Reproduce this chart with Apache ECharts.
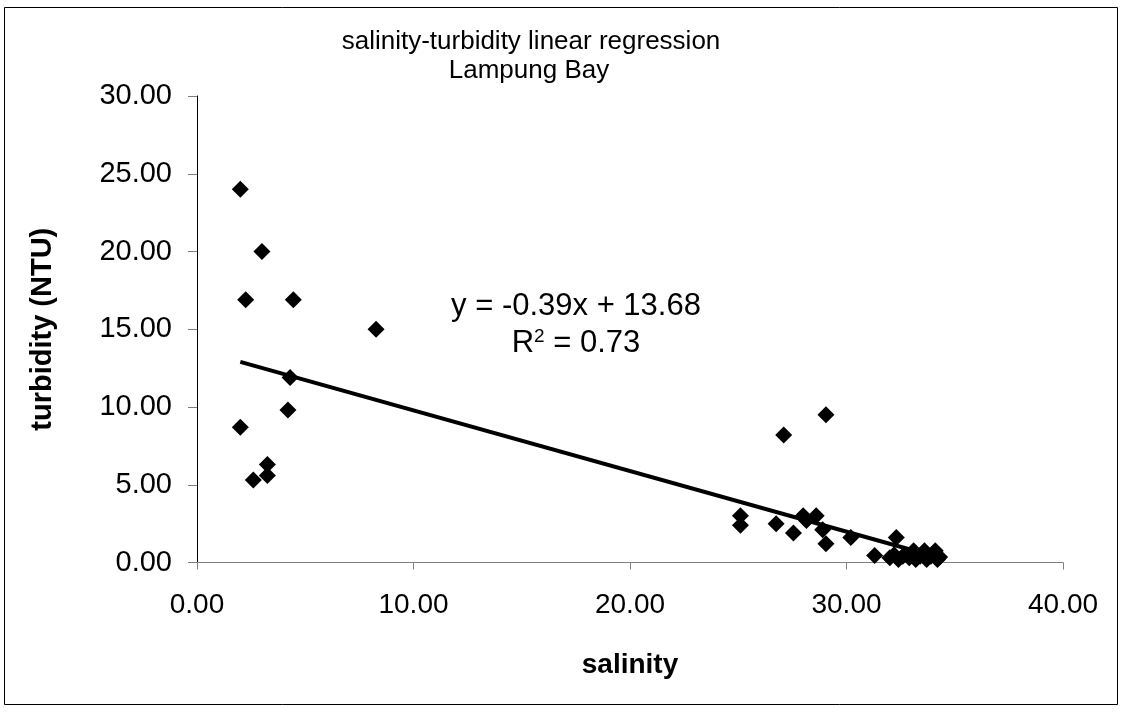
<!DOCTYPE html>
<html>
<head>
<meta charset="utf-8">
<title>salinity-turbidity linear regression</title>
<script src="https://cdn.jsdelivr.net/npm/echarts@6/dist/echarts.min.js"></script>
<style>
  html, body { margin: 0; padding: 0; background: #fff; }
  #chart { width: 1123px; height: 712px; }
</style>
</head>
<body>
<div id="chart"></div>
<script>
// salinity (x) and turbidity (y)
var salinity = [2.0, 3.0, 2.25, 4.45, 8.27, 4.3, 4.2, 2.0, 3.25, 3.25, 2.6,
  25.1, 25.1, 26.75, 27.1, 27.55, 28.0, 28.15, 28.6, 28.9, 29.05, 29.05, 30.2, 31.3, 32.3,
  32.0, 32.2, 32.4, 32.6, 32.9, 33.1, 33.2, 33.4, 33.6, 33.7, 33.9, 34.1, 34.2, 34.3];
var turbidity = [24.0, 20.0, 16.9, 16.9, 15.0, 11.9, 9.8, 8.7, 6.3, 5.6, 5.3,
  3.0, 2.4, 2.5, 8.2, 1.9, 3.0, 2.7, 3.0, 2.1, 9.5, 1.2, 1.6, 0.45, 1.6,
  0.3, 0.5, 0.2, 0.4, 0.3, 0.75, 0.2, 0.4, 0.75, 0.2, 0.4, 0.75, 0.2, 0.35];

// linear trend line: y = slope * x + intercept
var slope = -0.39;
var intercept = 13.68;
var trendX = [2.0, 34.3];
var rSquared = 0.73;

var points = salinity.map(function (s, i) { return [s, turbidity[i]]; });
var trend = trendX.map(function (x) { return [x, slope * x + intercept]; });

var font = 'Liberation Sans, Arial, sans-serif';

var chart = echarts.init(document.getElementById('chart'));
chart.setOption({
  backgroundColor: '#fff',
  animation: false,
  textStyle: { fontFamily: font, color: '#000' },
  grid: { left: 197, right: 60, top: 96, bottom: 149.5 },
  xAxis: {
    type: 'value',
    min: 0, max: 40, interval: 10,
    name: 'salinity',
    nameLocation: 'middle',
    nameGap: 89,
    nameTextStyle: { fontFamily: font, fontSize: 28, fontWeight: 'bold', color: '#000' },
    axisLine: { onZero: false, lineStyle: { color: '#808080', width: 1 } },
    axisTick: { length: 7, lineStyle: { color: '#808080' } },
    axisLabel: {
      fontFamily: font, fontSize: 28, color: '#000', margin: 29,
      formatter: function (v) { return v.toFixed(2); }
    },
    splitLine: { show: false }
  },
  yAxis: {
    type: 'value',
    min: 0, max: 30, interval: 5,
    name: 'turbidity (NTU)',
    nameLocation: 'middle',
    nameGap: 140,
    nameTextStyle: { fontFamily: font, fontSize: 29, fontWeight: 'bold', color: '#000' },
    axisLine: { show: true, lineStyle: { color: '#000', width: 1 } },
    axisTick: { show: true, length: 9, lineStyle: { color: '#808080' } },
    axisLabel: {
      fontFamily: font, fontSize: 29, color: '#000', margin: 25,
      formatter: function (v) { return v.toFixed(2); }
    },
    splitLine: { show: false }
  },
  series: [{
    name: 'trend',
    type: 'line',
    data: trend,
    symbol: 'none',
    lineStyle: { color: '#000', width: 4 },
    z: 2
  }, {
    name: 'turbidity',
    type: 'scatter',
    data: points,
    symbol: 'diamond',
    symbolSize: 17,
    itemStyle: { color: '#000', opacity: 1 },
    z: 3
  }],
  graphic: [{
    type: 'rect',
    shape: { x: 4.5, y: 7.5, width: 1113, height: 697 },
    style: { fill: 'none', stroke: '#000', lineWidth: 1 },
    silent: true
  }, {
    type: 'text',
    x: 531, y: 42,
    style: {
      text: 'salinity-turbidity linear regression',
      font: '26px ' + font,
      fill: '#000',
      align: 'center',
      verticalAlign: 'middle'
    }
  }, {
    type: 'text',
    x: 529, y: 71,
    style: {
      text: 'Lampung Bay',
      font: '26px ' + font,
      fill: '#000',
      align: 'center',
      verticalAlign: 'middle'
    }
  }, {
    type: 'text',
    x: 576, y: 306,
    style: {
      text: 'y = -0.39x + 13.68',
      font: '31px ' + font,
      fill: '#000',
      align: 'center',
      verticalAlign: 'middle'
    }
  }, {
    type: 'text',
    x: 576, y: 343,
    style: {
      text: '{b|R}{s|2}{b| = ' + rSquared.toFixed(2) + '}',
      align: 'center',
      verticalAlign: 'middle',
      rich: {
        b: { font: '31px ' + font, fill: '#000', color: '#000' },
        s: { font: '19px ' + font, fill: '#000', color: '#000', verticalAlign: 'top', padding: [0, 0, 12, 0] }
      }
    }
  }]
});
</script>
</body>
</html>
